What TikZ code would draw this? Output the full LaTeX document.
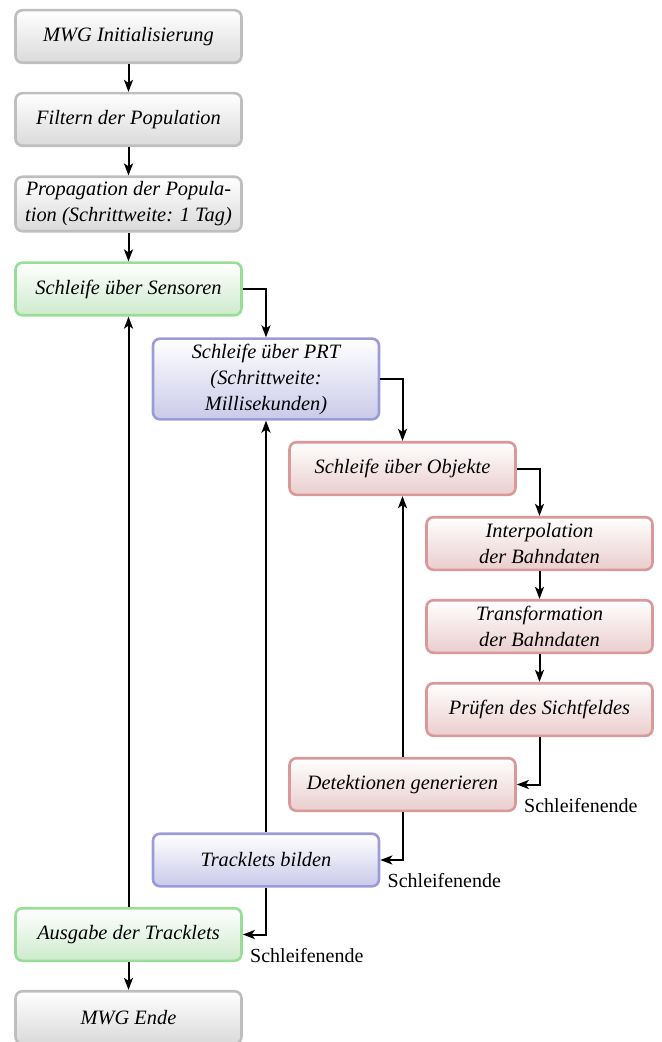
\documentclass[tikz,border=0pt]{standalone}
\usepackage{fontspec}
\setmainfont{Liberation Serif}
\usetikzlibrary{arrows.meta,shadings}
\definecolor{grayB}{RGB}{190,190,190}
\definecolor{grayF}{RGB}{218,218,218}
\definecolor{greenB}{RGB}{152,222,152}
\definecolor{greenF}{RGB}{205,234,205}
\definecolor{blueB}{RGB}{155,155,218}
\definecolor{blueF}{RGB}{202,202,234}
\definecolor{redB}{RGB}{218,152,152}
\definecolor{redF}{RGB}{234,205,205}
\tikzset{
  box/.style={draw, line width=1.3pt, rounded corners=3.5pt, minimum width=113pt,
    minimum height=26.3pt, inner ysep=2.5pt, align=center,
    font=\fontsize{10.2}{13}\selectfont\itshape},
  graybox/.style={box, draw=grayB, top color=white, bottom color=grayF},
  greenbox/.style={box, draw=greenB, top color=white, bottom color=greenF},
  bluebox/.style={box, draw=blueB, top color=white, bottom color=blueF},
  redbox/.style={box, draw=redB, top color=white, bottom color=redF},
  conn/.style={line width=1pt, -{Stealth[length=6pt,width=4.5pt,inset=1.5pt]}},
  endlabel/.style={anchor=base west, inner sep=0pt, xshift=3.5pt, font=\fontsize{10}{12}\selectfont}
}
\begin{document}
\begin{tikzpicture}[x=0.5pt,y=-0.5pt]
\useasboundingbox (0,0) rectangle (662,1042);
\node[graybox] (init) at (128.5,36.5) {MWG Initialisierung};
\node[graybox] (filt) at (128.5,119.5) {Filtern der Population};
\node[graybox] (prop) at (128.5,204) {Propagation der Popula-\\tion (Schrittweite: 1 Tag)};
\node[greenbox] (sens) at (128.5,289) {Schleife über Sensoren};
\node[bluebox] (prt) at (266,379) {Schleife über PRT\\(Schrittweite:\\Millisekunden)};
\node[redbox] (obj) at (402.5,468.5) {Schleife über Objekte};
\node[redbox] (interp) at (539.5,543.5) {Interpolation\\der Bahndaten};
\node[redbox] (trans) at (539.5,626.5) {Transformation\\der Bahndaten};
\node[redbox] (pruef) at (539.5,709.5) {Prüfen des Sichtfeldes};
\node[redbox] (det) at (402.5,784.5) {Detektionen generieren};
\node[bluebox] (track) at (266,860) {Tracklets bilden};
\node[greenbox] (ausg) at (128.5,934.5) {Ausgabe der Tracklets};
\node[graybox] (ende) at (128.5,1017.5) {MWG Ende};

\draw[conn] (init) -- (filt);
\draw[conn] (filt) -- (prop);
\draw[conn] (prop) -- (sens);
\draw[conn] (sens.east) -| (prt.north);
\draw[conn] (prt.east) -| (obj.north);
\draw[conn] (obj.east) -| (interp.north);
\draw[conn] (interp) -- (trans);
\draw[conn] (trans) -- (pruef);
\draw[conn] (pruef.south) |- (det.east);
\draw[conn] (det.north) -- (obj.south);
\draw[conn] (det.south) |- (track.east);
\draw[conn] (track.north) -- (prt.south);
\draw[conn] (track.south) |- (ausg.east);
\draw[conn] (ausg.north) -- (sens.south);
\draw[conn] (ausg) -- (ende);

\node[endlabel] (l1) at (det.south east) {Schleifenende};
\node[endlabel] (l2) at (track.south east) {Schleifenende};
\node[endlabel] (l3) at (ausg.south east) {Schleifenende};
\end{tikzpicture}
\end{document}
